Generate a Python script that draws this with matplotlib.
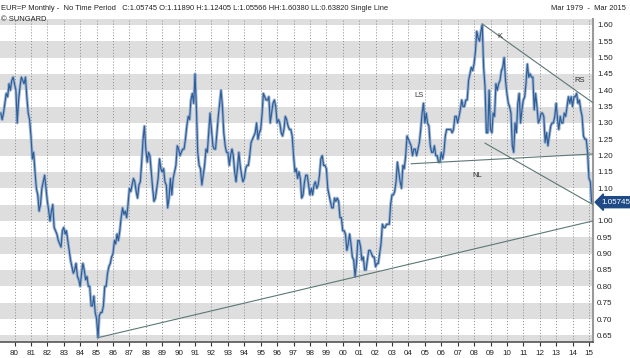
import matplotlib
matplotlib.use("Agg")
import matplotlib.pyplot as plt
import pandas as pd

# ---------------- data ----------------
start_month = "1979-03"
closes = [
    # 1979 (Mar-Dec)
    1.33, 1.31, 1.33, 1.36, 1.39, 1.38, 1.42, 1.40, 1.43, 1.44,
    # 1980
    1.42, 1.40, 1.30, 1.37, 1.41, 1.44, 1.43, 1.42, 1.44, 1.38, 1.33, 1.31,
    # 1981
    1.26, 1.19, 1.21, 1.15, 1.10, 1.08, 1.03, 1.05, 1.10, 1.12, 1.14, 1.10,
    # 1982
    1.06, 1.03, 1.00, 1.03, 1.05, 0.98, 0.97, 0.96, 0.94, 0.93, 0.92, 0.97,
    # 1983
    0.98, 0.96, 0.97, 0.94, 0.91, 0.88, 0.86, 0.84, 0.85, 0.87, 0.83, 0.82,
    # 1984
    0.80, 0.84, 0.87, 0.85, 0.82, 0.83, 0.80, 0.80, 0.74, 0.74, 0.77, 0.72,
    # 1985
    0.70, 0.643, 0.71, 0.72, 0.72, 0.74, 0.80, 0.80, 0.84, 0.86, 0.87, 0.89,
    # 1986
    0.90, 0.94, 0.93, 0.96, 0.94, 0.97, 1.01, 1.04, 1.02, 1.03, 1.01, 1.05,
    # 1987
    1.10, 1.09, 1.11, 1.13, 1.12, 1.09, 1.07, 1.11, 1.12, 1.18, 1.25, 1.29,
    # 1988
    1.22, 1.18, 1.21, 1.20, 1.15, 1.10, 1.06, 1.07, 1.10, 1.13, 1.19, 1.16,
    # 1989
    1.15, 1.16, 1.12, 1.11, 1.04, 1.07, 1.13, 1.08, 1.13, 1.15, 1.17, 1.23,
    # 1990
    1.22, 1.20, 1.21, 1.22, 1.22, 1.25, 1.29, 1.32, 1.31, 1.37, 1.39, 1.36,
    # 1991
    1.45, 1.34, 1.21, 1.17, 1.16, 1.11, 1.14, 1.17, 1.22, 1.21, 1.27, 1.33,
    # 1992
    1.28, 1.23, 1.22, 1.22, 1.27, 1.32, 1.36, 1.40, 1.35, 1.27, 1.23, 1.21,
    # 1993
    1.21, 1.17, 1.20, 1.22, 1.20, 1.15, 1.12, 1.16, 1.21, 1.17, 1.14, 1.12,
    # 1994
    1.13, 1.16, 1.17, 1.17, 1.20, 1.24, 1.25, 1.26, 1.27, 1.30, 1.25, 1.27,
    # 1995
    1.28, 1.33, 1.39, 1.38, 1.37, 1.37, 1.38, 1.30, 1.33, 1.36, 1.37, 1.35,
    # 1996
    1.30, 1.31, 1.30, 1.27, 1.26, 1.28, 1.32, 1.31, 1.29, 1.28, 1.28, 1.26,
    # 1997
    1.20, 1.15, 1.16, 1.13, 1.15, 1.13, 1.07, 1.08, 1.12, 1.14, 1.14, 1.11,
    # 1998
    1.08, 1.10, 1.08, 1.11, 1.12, 1.10, 1.11, 1.14, 1.19, 1.20, 1.17, 1.17,
    # 1999
    1.16, 1.10, 1.08, 1.06, 1.04, 1.04, 1.07, 1.06, 1.07, 1.06, 1.01, 1.01,
    # 2000
    0.97, 0.97, 0.96, 0.91, 0.93, 0.96, 0.93, 0.89, 0.88, 0.83, 0.87, 0.94,
    # 2001
    0.94, 0.92, 0.88, 0.89, 0.85, 0.85, 0.88, 0.91, 0.91, 0.90, 0.89, 0.89,
    # 2002
    0.86, 0.87, 0.87, 0.90, 0.93, 0.99, 0.98, 0.98, 0.99, 0.99, 0.99, 1.05,
    # 2003
    1.08, 1.08, 1.09, 1.12, 1.18, 1.15, 1.12, 1.10, 1.17, 1.16, 1.20, 1.26,
    # 2004
    1.25, 1.24, 1.23, 1.20, 1.22, 1.22, 1.20, 1.22, 1.24, 1.28, 1.33, 1.36,
    # 2005
    1.30, 1.33, 1.30, 1.29, 1.23, 1.21, 1.21, 1.23, 1.20, 1.20, 1.18, 1.18,
    # 2006
    1.21, 1.19, 1.21, 1.26, 1.28, 1.28, 1.28, 1.28, 1.27, 1.28, 1.32, 1.32,
    # 2007
    1.30, 1.32, 1.34, 1.37, 1.35, 1.35, 1.37, 1.37, 1.43, 1.45, 1.47, 1.46,
    # 2008
    1.48, 1.52, 1.58, 1.56, 1.55, 1.58, 1.60, 1.47, 1.41, 1.27, 1.27, 1.40,
    # 2009
    1.28, 1.27, 1.33, 1.32, 1.42, 1.40, 1.42, 1.43, 1.46, 1.47, 1.50, 1.43,
    # 2010
    1.39, 1.36, 1.35, 1.33, 1.23, 1.21, 1.30, 1.27, 1.36, 1.39, 1.30, 1.34,
    # 2011
    1.37, 1.38, 1.42, 1.48, 1.44, 1.45, 1.44, 1.44, 1.34, 1.39, 1.35, 1.30,
    # 2012
    1.31, 1.33, 1.33, 1.32, 1.24, 1.27, 1.23, 1.26, 1.29, 1.30, 1.30, 1.32,
    # 2013
    1.36, 1.31, 1.28, 1.32, 1.30, 1.30, 1.33, 1.32, 1.35, 1.38, 1.36, 1.38,
    # 2014
    1.35, 1.38, 1.38, 1.39, 1.36, 1.37, 1.34, 1.32, 1.26, 1.25, 1.25, 1.21,
    # 2015
    1.13, 1.12, 1.05745,
]

# trend lines: (start date, start value, end date, end value)
support_line = ["1985-02-01", 0.643, "2015-03-28", 1.000]
neck_line = ["2004-03-01", 1.175, "2015-03-28", 1.205]
upper_line = ["2008-07-01", 1.603, "2015-03-28", 1.362]
lower_line = ["2008-09-01", 1.238, "2015-03-28", 1.050]

pattern_labels = ["K", "RS", "LS", "NL"]
pattern_label_dates = ["2009-08-01", "2014-06-15", "2004-08-15", "2008-03-01"]
pattern_label_values = [1.565, 1.43, 1.385, 1.14]

year_ticks = list(range(1980, 2016))
y_ticks = [round(0.65 + 0.05 * i, 2) for i in range(20)]
hidden_y_label = 1.05  # covered by the last-value tag in the reference
last_value = "1.05745"

header = ("EUR=P Monthly -  No Time Period   C:1.05745 O:1.11890 H:1.12405 "
          "L:1.05566 HH:1.60380 LL:0.63820 Single Line")
period_text = "Mar 1979  -  Mar 2015"
copyright_text = "\u00a9 SUNGARD"

# ---------------- plot ----------------
plt.rcParams['font.family'] = ['Liberation Sans', 'DejaVu Sans']
fig = plt.figure(figsize=(6.3, 3.58), dpi=100)
ax = fig.add_axes([0.0, 0.045, 0.941, 0.902])

dates = pd.date_range(start_month, periods=len(closes), freq="MS")
x0 = pd.Timestamp("1979-02-12")
x1 = pd.Timestamp("2015-03-28")
ymin, ymax = 0.63, 1.618

# alternating bands
for i in range(-1, 21):
    lo = 0.60 + 0.05 * i
    if i % 2 == 0:
        ax.axhspan(lo, lo + 0.05, color="#dedede", lw=0, zorder=0)

# vertical dotted grid
for yr in year_ticks:
    ax.axvline(pd.Timestamp(f"{yr}-01-01"), color="#8a8a8a", lw=0.7,
               ls=(0, (1, 2)), zorder=1)

# price line (light "bar" body + dark line)
ax.plot(dates, closes, color="#9fb6d3", lw=2.2, zorder=2)
ax.plot(dates, closes, color="#2f5d96", lw=0.85, zorder=3)

# trend lines
for ln in [support_line, neck_line, upper_line, lower_line]:
    ax.plot([pd.Timestamp(ln[0]), pd.Timestamp(ln[2])], [ln[1], ln[3]],
            color="#5d7876", lw=0.8, zorder=4)

for lab, d, v in zip(pattern_labels, pattern_label_dates, pattern_label_values):
    ax.text(pd.Timestamp(d), v, lab, fontsize=5.5, color="#333333",
            ha="center", va="center", zorder=5)

ax.set_xlim(x0, x1)
ax.set_ylim(ymin, ymax)

ax.set_xticks([pd.Timestamp(f"{yr}-01-01") for yr in year_ticks])
ax.set_xticklabels([f"{yr % 100:02d}" for yr in year_ticks])
ax.yaxis.tick_right()
ax.set_yticks(y_ticks)
ax.set_yticklabels(["" if abs(v - hidden_y_label) < 1e-9 else f"{v:.2f}"
                    for v in y_ticks])
ax.tick_params(axis="x", length=3, width=0.8, color="#333333", labelsize=5.8,
               labelcolor="#222222", pad=3, direction="out")
ax.tick_params(axis="y", length=0, labelsize=5.8, labelcolor="#222222", pad=3)

for s in ["top", "left"]:
    ax.spines[s].set_visible(False)
ax.spines["right"].set_color("#9a9a9a")
ax.spines["right"].set_linewidth(1.5)
ax.spines["bottom"].set_color("#555555")
ax.spines["bottom"].set_linewidth(1.2)

# last value tag
ax.annotate(last_value, xy=(1.0, closes[-1]), xycoords=("axes fraction", "data"),
            xytext=(6, 0), textcoords="offset points", fontsize=5.8,
            color="white", va="center", ha="left",
            bbox=dict(boxstyle="larrow,pad=0.25", fc="#1f4a86", ec="#1f4a86"),
            annotation_clip=False, zorder=6)

fig.text(0.002, 0.985, header, fontsize=5.4, color="#222222", ha="left", va="top")
fig.text(0.002, 0.955, copyright_text, fontsize=5.4, color="#222222", ha="left", va="top")
fig.text(0.993, 0.985, period_text, fontsize=5.4, color="#222222", ha="right", va="top")

fig.savefig("out.png", dpi=100)
